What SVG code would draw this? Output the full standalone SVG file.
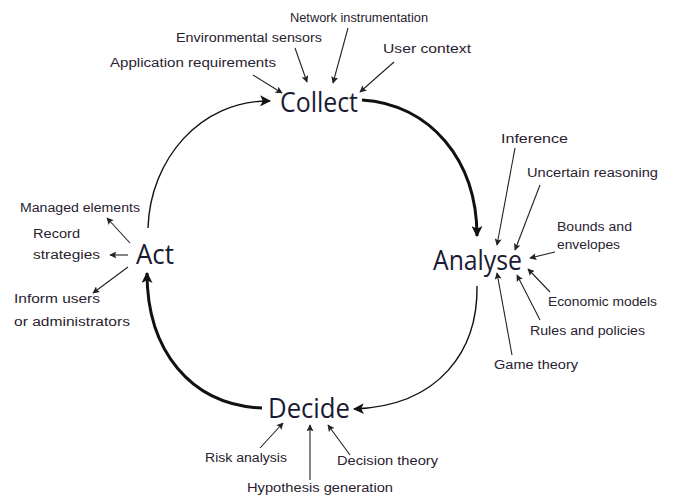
<svg xmlns="http://www.w3.org/2000/svg" width="673" height="499" viewBox="0 0 673 499">
<style>
.main{font-family:"Open Sans","Liberation Sans",sans-serif;font-size:27px;fill:#1a1a33;}
.lbl{font-family:"Liberation Sans","DejaVu Sans",sans-serif;font-size:12.5px;fill:#2a2230;}
.thin{fill:none;stroke:#111;stroke-width:1.4;}
.thick{fill:none;stroke:#111;stroke-width:3;}
.feed{fill:none;stroke:#222;stroke-width:1.1;marker-end:url(#sm);}
</style>
<defs>
<marker id="big" viewBox="0 0 10 10" refX="9" refY="5" markerWidth="11" markerHeight="11" markerUnits="userSpaceOnUse" orient="auto"><path d="M0,0 L10,5 L0,10 L2.5,5 Z" fill="#111"/></marker>
<marker id="sm" viewBox="0 0 10 10" refX="9" refY="5" markerWidth="7" markerHeight="7" markerUnits="userSpaceOnUse" orient="auto"><path d="M0,0 L10,5 L0,10 L2,5 Z" fill="#222"/></marker>
</defs>
<rect width="673" height="499" fill="#fff"/>
<g id="connectors">
<path class="thin" d="M148,228 C150,160 200,100 270,101" marker-end="url(#big)"/>
<path class="thick" d="M362,100 C430,104 477,160 477,236" marker-end="url(#big)"/>
<path class="thin" d="M477,286 C478,350 440,406 354,409" marker-end="url(#big)"/>
<path class="thick" d="M262,408 C190,405 147,350 147,273" marker-end="url(#big)"/>
<path class="feed" d="M253,75 L282,93"/>
<path class="feed" d="M295,48 L307,82"/>
<path class="feed" d="M348,28 L333,83"/>
<path class="feed" d="M394,62 L360,92"/>
<path class="feed" d="M515,148 L497,245"/>
<path class="feed" d="M540,185 L515,250"/>
<path class="feed" d="M555,252 L530,258"/>
<path class="feed" d="M550,292 L528,269"/>
<path class="feed" d="M540,320 L517,275"/>
<path class="feed" d="M512,355 L497,273"/>
<path class="feed" d="M130,243 L107,218"/>
<path class="feed" d="M128,255 L110,255"/>
<path class="feed" d="M128,267 L93,293"/>
<path class="feed" d="M260,448 L283,423"/>
<path class="feed" d="M310,480 L310,425"/>
<path class="feed" d="M350,455 L328,425"/>
</g>
<g id="collect"><text class="main" x="280" y="112" textLength="78" lengthAdjust="spacingAndGlyphs">Collect</text></g>
<g id="analyse"><text class="main" x="433" y="270" textLength="89" lengthAdjust="spacingAndGlyphs">Analyse</text></g>
<g id="decide"><text class="main" x="268" y="418" textLength="82" lengthAdjust="spacingAndGlyphs">Decide</text></g>
<g id="act"><text class="main" x="136" y="264" textLength="38" lengthAdjust="spacingAndGlyphs">Act</text></g>
<g id="network-instrumentation"><text class="lbl" x="290" y="22" textLength="138" lengthAdjust="spacingAndGlyphs">Network instrumentation</text></g>
<g id="environmental-sensors"><text class="lbl" x="176" y="42" textLength="146" lengthAdjust="spacingAndGlyphs">Environmental sensors</text></g>
<g id="user-context"><text class="lbl" x="383" y="53" textLength="88" lengthAdjust="spacingAndGlyphs">User context</text></g>
<g id="application-requirements"><text class="lbl" x="110" y="67" textLength="166" lengthAdjust="spacingAndGlyphs">Application requirements</text></g>
<g id="inference"><text class="lbl" x="501" y="143" textLength="67" lengthAdjust="spacingAndGlyphs">Inference</text></g>
<g id="uncertain-reasoning"><text class="lbl" x="527" y="177" textLength="131" lengthAdjust="spacingAndGlyphs">Uncertain reasoning</text></g>
<g id="bounds"><text class="lbl" x="557" y="231" textLength="75" lengthAdjust="spacingAndGlyphs">Bounds and</text><text class="lbl" x="557" y="249" textLength="63" lengthAdjust="spacingAndGlyphs">envelopes</text></g>
<g id="economic-models"><text class="lbl" x="548" y="306" textLength="109" lengthAdjust="spacingAndGlyphs">Economic models</text></g>
<g id="rules-policies"><text class="lbl" x="530" y="335" textLength="115" lengthAdjust="spacingAndGlyphs">Rules and policies</text></g>
<g id="game-theory"><text class="lbl" x="494" y="369" textLength="84" lengthAdjust="spacingAndGlyphs">Game theory</text></g>
<g id="managed-elements"><text class="lbl" x="20" y="212" textLength="120" lengthAdjust="spacingAndGlyphs">Managed elements</text></g>
<g id="record-strategies"><text class="lbl" x="33" y="238" textLength="47" lengthAdjust="spacingAndGlyphs">Record</text><text class="lbl" x="33" y="259" textLength="67" lengthAdjust="spacingAndGlyphs">strategies</text></g>
<g id="inform-users"><text class="lbl" x="14" y="303" textLength="86" lengthAdjust="spacingAndGlyphs">Inform users</text><text class="lbl" x="14" y="326" textLength="116" lengthAdjust="spacingAndGlyphs">or administrators</text></g>
<g id="risk-analysis"><text class="lbl" x="205" y="462" textLength="82" lengthAdjust="spacingAndGlyphs">Risk analysis</text></g>
<g id="decision-theory"><text class="lbl" x="337" y="465" textLength="101" lengthAdjust="spacingAndGlyphs">Decision theory</text></g>
<g id="hypothesis-generation"><text class="lbl" x="247" y="492" textLength="146" lengthAdjust="spacingAndGlyphs">Hypothesis generation</text></g>
</svg>
